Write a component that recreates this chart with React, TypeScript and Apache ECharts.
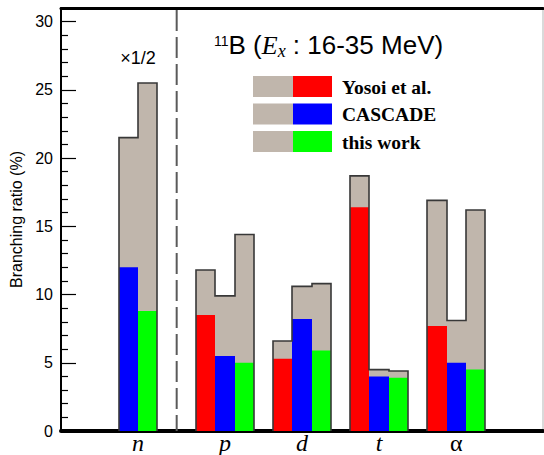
import React, { useEffect, useRef } from "react";
import * as echarts from "echarts";

// ---- data ----
const categories = ["n", "p", "d", "t", "α"];
const seriesNames = ["Yosoi et al.", "CASCADE", "this work"];
// coloured (partial) values, %
const yosoi = [null, 8.5, 5.3, 16.4, 7.7];
const cascade = [12.0, 5.5, 8.2, 4.0, 5.0];
const thisWork = [8.8, 5.0, 5.9, 3.9, 4.5];
// grey totals, %
const yosoiTotal = [null, 11.8, 6.6, 18.7, 16.9];
const cascadeTotal = [21.5, 9.9, 10.6, 4.5, 8.1];
const thisWorkTotal = [25.5, 14.4, 10.8, 4.4, 16.2];
const yTicks = [0, 5, 10, 15, 20, 25, 30];
const nNote = "×1/2";

const COLORS = ["#ff0000", "#0000ff", "#00ff00"];
const GREY = "#c0b6ac";
const OUTLINE = "#383838";

const partials = [yosoi, cascade, thisWork];
const totals = [yosoiTotal, cascadeTotal, thisWorkTotal];

// layout in axis units (one unit = one bar width)
const groupStart = (i: number) => 2 + 4 * i + (i > 0 ? 1 : 0);
const groupBars = (i: number) => {
  const out: { x: number; part: number; total: number; k: number }[] = [];
  for (let k = 0; k < 3; k++) {
    const t = totals[k][i];
    const p = partials[k][i];
    if (t == null || p == null) continue;
    out.push({ x: groupStart(i) + k, part: p, total: t, k });
  }
  return out;
};
const groupCenter = (i: number) => {
  const b = groupBars(i);
  return (b[0].x + b[b.length - 1].x + 1) / 2;
};
const labelPositions = categories.map((_, i) => groupCenter(i));

export default function App() {
  const ref = useRef<HTMLDivElement>(null);
  useEffect(() => {
    if (!ref.current) return;
    const chart = echarts.init(ref.current, null, { renderer: "svg" });

    const renderItem = (params: any, api: any) => {
      const i = api.value(0);
      const bars = groupBars(i);
      const children: any[] = [];
      const px = (x: number, y: number) => {
        const c = api.coord([x, y]);
        return [Math.round(c[0]), c[1]];
      };
      // histogram outline points
      const pts: number[][] = [];
      pts.push(px(bars[0].x, 0));
      bars.forEach((b) => {
        pts.push(px(b.x, b.total));
        pts.push(px(b.x + 1, b.total));
      });
      pts.push(px(bars[bars.length - 1].x + 1, 0));
      children.push({
        type: "polygon",
        shape: { points: pts },
        style: { fill: GREY },
      });
      bars.forEach((b) => {
        const c0 = px(b.x, b.part);
        const c1 = px(b.x + 1, 0);
        children.push({
          type: "rect",
          shape: { x: c0[0], y: c0[1], width: c1[0] - c0[0], height: c1[1] - c0[1] },
          style: { fill: COLORS[b.k] },
        });
      });
      children.push({
        type: "polyline",
        shape: { points: pts },
        style: { stroke: OUTLINE, lineWidth: 1.6, fill: null },
      });
      if (i === 0) {
        // note above the n group
        const np = api.coord([groupCenter(0), 27.35]);
        children.push({
          type: "text",
          style: {
            text: nNote,
            x: np[0],
            y: np[1],
            fill: "#000",
            fontSize: 18,
            fontFamily: "Liberation Sans, Arial, sans-serif",
            align: "center",
            verticalAlign: "middle",
          },
        });
        // separator after the n group
        const sx = (bars[bars.length - 1].x + 1 + groupStart(1)) / 2;
        const s0 = api.coord([sx, 30.85]);
        const s1 = api.coord([sx, 0]);
        children.push({
          type: "line",
          shape: { x1: s0[0], y1: s0[1], x2: s1[0], y2: s1[1] },
          style: { stroke: "#5a5a5a", lineWidth: 2, lineDash: [21, 6] },
        });
      }
      return { type: "group", children };
    };

    const legendGraphics: any[] = [];
    seriesNames.forEach((name, k) => {
      const top = 76 + k * 27.5;
      legendGraphics.push(
        { type: "rect", left: 253, top, shape: { width: 40, height: 21 }, style: { fill: GREY } },
        { type: "rect", left: 293, top, shape: { width: 39, height: 21 }, style: { fill: COLORS[k] } },
        {
          type: "text",
          left: 342,
          top: top + 1,
          style: {
            text: name,
            fill: "#000",
            fontSize: 19.5,
            fontWeight: "bold",
            fontFamily: "Liberation Serif, Times New Roman, serif",
          },
        }
      );
    });

    chart.setOption({
      animation: false,
      backgroundColor: "#fff",
      grid: {
        left: 61,
        right: 1,
        top: 8,
        bottom: 24,
        show: true,
        borderColor: "#b5b5b5",
        borderWidth: 1,
      },
      xAxis: [
        {
          type: "value",
          min: 0,
          max: 25,
          splitLine: { show: false },
          axisLine: { show: true, onZero: false, lineStyle: { color: "#000", width: 4 } },
          axisTick: { show: false },
          axisLabel: {
            customValues: labelPositions,
            margin: 0,
            formatter: (v: number) => {
              let best = 0;
              labelPositions.forEach((p, j) => {
                if (Math.abs(p - v) < Math.abs(labelPositions[best] - v)) best = j;
              });
              const c = categories[best];
              return c === "α" ? "{u|" + c + "}" : "{i|" + c + "}";
            },
            rich: {
              i: {
                fontSize: 24,
                fontStyle: "italic",
                fontFamily: "Liberation Serif, Times New Roman, serif",
                color: "#000",
              },
              u: {
                fontSize: 24,
                fontFamily: "Liberation Serif, Times New Roman, serif",
                color: "#000",
              },
            },
          },
        },
        {
          type: "value",
          position: "top",
          min: 0,
          max: 25,
          splitLine: { show: false },
          axisLine: { show: true, onZero: false, lineStyle: { color: "#000", width: 3 } },
          axisTick: { show: false },
          axisLabel: { show: false },
        },
      ],
      yAxis: {
        type: "value",
        min: 0,
        max: 31,
        interval: 5,
        name: "Branching ratio (%)",
        nameLocation: "middle",
        nameGap: 35,
        nameTextStyle: {
          fontSize: 16,
          color: "#000",
          fontFamily: "Liberation Sans, Arial, sans-serif",
        },
        splitLine: { show: false },
        axisLine: { show: true, onZero: false, lineStyle: { color: "#000", width: 2 } },
        axisTick: { show: true, inside: true, length: 15, lineStyle: { color: "#000", width: 1.2 } },
        minorTick: { show: true, splitNumber: 5, length: 7, lineStyle: { color: "#000", width: 1.2 } },
        axisLabel: {
          margin: 8,
          fontSize: 16,
          color: "#000",
          fontFamily: "Liberation Sans, Arial, sans-serif",
          showMaxLabel: false,
          formatter: (v: number) => (yTicks.includes(v) ? String(v) : ""),
        },
      },
      series: [
        {
          type: "custom",
          renderItem,
          clip: false,
          data: categories.map((_, i) => [i]),
          encode: { x: -1, y: -1 } as any,
        },
      ],
      graphic: [
        {
          type: "text",
          left: 214,
          top: 30,
          style: {
            text: "{sup|11}{m|B (}{e|E}{sub|x}{m| : 16-35 MeV)}",
            rich: {
              sup: {
                fontSize: 14,
                lineHeight: 14,
                verticalAlign: "top",
                padding: [4, 0, 0, 0],
                fontFamily: "Liberation Sans, Arial, sans-serif",
                fill: "#000",
              },
              m: {
                fontSize: 26,
                lineHeight: 30,
                fontFamily: "Liberation Sans, Arial, sans-serif",
                fill: "#000",
              },
              e: {
                fontSize: 26,
                lineHeight: 30,
                fontStyle: "italic",
                fontFamily: "Liberation Serif, Times New Roman, serif",
                fill: "#000",
              },
              sub: {
                fontSize: 18,
                lineHeight: 18,
                verticalAlign: "bottom",
                fontStyle: "italic",
                fontFamily: "Liberation Serif, Times New Roman, serif",
                fill: "#000",
              },
            },
          },
        },
        ...legendGraphics,
      ],
    });
    return () => chart.dispose();
  }, []);
  return <div ref={ref} style={{ width: 544, height: 455, position: "absolute", left: 0, top: 0 }} />;
}
